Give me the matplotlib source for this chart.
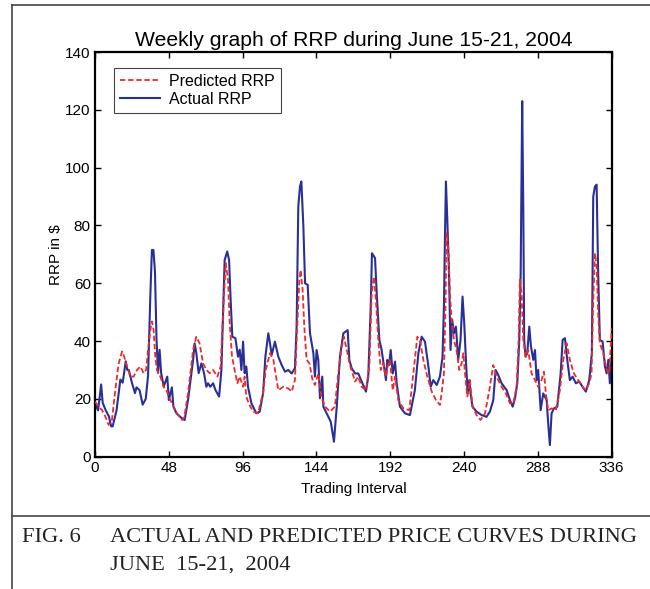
import matplotlib
matplotlib.use('Agg')
import matplotlib.pyplot as plt
from matplotlib.lines import Line2D

# actual RRP (blue)
x_act = [0, 2, 4, 5, 7, 9, 10.5, 11.5, 14, 16.5, 18, 20, 21, 22, 24, 26, 27, 29, 31, 33,
         34.5, 36, 37, 38, 39, 40, 41, 42, 43, 44.7, 47, 48, 50, 51, 53, 56, 58.3, 60.5, 63.8, 64.8,
         65.9, 67.4, 69.2, 70.9, 72.4, 73.5, 75, 76.8, 78.3, 80.7, 82.2, 83.3, 84.3, 86, 87.2, 88.2,
         89.3, 91.3, 93, 94.1, 95.2, 96.3, 97.3, 98.4, 99.5, 101.7, 104.9, 107.1, 109.3, 110.8,
         112.7, 113.8, 114.9, 117, 119.2, 121.4, 123.6, 125.7, 127.9, 130, 131.1, 132.2, 133.3,
         134.2, 135.5, 136.6, 138.3, 139.8, 142, 143, 144.1, 145.2, 146.3, 147.8, 148.5, 150.6,
         153.3, 155.4, 157.2, 159.3, 161.5, 164.3, 165.4, 166.9, 169.1, 171.2, 173.4, 176.2, 177.7,
         179.3, 180.1, 182.1, 183.2, 184.9, 186.4, 187.9, 189.2, 190.1, 191.2, 192.3, 193.6, 195.1,
         196.2, 198.3, 201.6, 204.8, 208, 210.3, 212.4, 214.6, 216.8, 218.3, 220, 222.2, 224.3, 226,
         226.9, 227.6, 228.2, 229.1, 230.2, 231.2, 232.3, 233.4, 234.7, 236.2, 237.7, 239, 240.1,
         241.2, 242.3, 243.4, 244.2, 245.5, 248.1, 251.4, 254.6, 256.8, 259, 260.5, 262.2, 264.4,
         267.7, 269.8, 271.6, 273.1, 274.6, 275.9, 276.8, 277.4, 277.8, 278.5, 279.1, 280, 281.1,
         282.4, 283.5, 285, 286.1, 287.2, 288.2, 289.8, 291.5, 293.7, 294.7, 295.8, 296.9, 298.4,
         300.6, 302.8, 304.1, 305.6, 307.1, 308.8, 310.6, 312.7, 314.9, 317, 319.2, 321.4, 323.1,
         324, 325.1, 326.2, 327.2, 328.3, 330.1, 331.6, 332.7, 333.8, 334.8, 336]
y_act = [18.6, 16, 25, 18.6, 16, 14, 10.5, 10.5, 16, 26.7, 25.6, 33, 30, 30, 25.6, 22, 24, 23, 18, 20,
         28, 56, 71.5, 71.5, 64, 40.7, 29, 37, 29, 24.3, 27.7, 19.6, 24, 17.3, 15, 13.5, 12.7, 19.6, 33.5, 39.2,
         35.8, 28.9, 32.3, 28.9, 24.2, 25.4, 24.2, 25.4, 23.1, 20.8, 30, 49.6, 68, 71, 68, 54.3,
         41.5, 41, 34.6, 37, 30, 39.8, 28.9, 31.2, 24.2, 18.5, 15, 15.6, 21.9, 34.6,
         42.7, 39.2, 35.2, 39.8, 34.6, 31.7, 29.4, 30, 28.8, 30.6, 45, 86.6, 93.5,
         95.2, 79.6, 60, 59.4, 42.7, 35.8, 27.7, 36.9, 33.5, 20.2, 27.7, 17.3, 15,
         12.1, 5.2, 17.3, 34.6, 42.7, 43.8, 33.5, 30.6, 28.8, 28.8, 26, 22.5, 27.7,
         52, 70.4, 68.7, 56.5, 40.4, 36.9, 31.2, 26.5, 33.5, 31.7, 36.9, 28.8, 32.9,
         25.4, 17.3, 15, 14.4, 23, 35.8, 41.5, 39.8, 31.2, 24.2, 26.5, 24.8, 27.7, 34.6,
         52, 77.3, 95.2, 82, 63.5, 36.9, 47.3, 42.7, 45, 33.5, 40.4, 55.4, 46.2,
         33.5, 21.9, 26.5, 21.9, 17.3, 15.6, 14.4, 13.8, 15.6, 19.6, 30, 28.3, 25.4,
         23, 19.6, 17.3, 20.2, 25.4, 40.4, 63.5, 98.1, 123, 86.6, 40.4, 34.6, 35.8,
         45, 38.1, 33.5, 36.9, 26.5, 30, 16.1, 21.9, 19.6, 11.5, 4, 15, 16.7,
         17.3, 28.8, 40.4, 41, 33.5, 26.5, 27.7, 25.4, 26, 24.2, 22.5, 26.5, 35.8,
         90, 93.5, 94.1, 63.5, 40.4, 39.8, 31.2, 28.8, 33.5, 25.4, 34.6]

# predicted RRP (red dashed)
x_pred = [0, 2.4, 4.5, 6.7, 8.9, 11, 13.2, 15.4, 17.6, 19, 20.8, 23, 25.1, 27.3, 29.5, 31.6, 33.2,
          34.5, 36, 37, 38.1, 39.2, 40.3, 42.5, 44.6, 46.8, 49, 51.1, 53.3, 56.6, 58, 60.5, 63.8,
          65.9, 68, 70.3, 72.4, 74.6, 76.8, 79.6, 81.7, 83.3, 85, 86.5, 87.6, 89.1, 90.8, 92.6,
          94.1, 96.3, 97.3, 98.4, 99.9, 102.8, 106, 109.3, 111, 113.8, 116, 119.2, 122.5, 125.7,
          127.9, 130, 131.6, 132.9, 133.7, 135, 136.1, 137.6, 139.4, 141.5, 143, 145.2, 147.4,
          149.6, 152.8, 156, 158.2, 160.4, 161.9, 163.7, 165.8, 169.1, 171.2, 173.4, 176.2, 178.4,
          179.9, 181.4, 182.7, 184.2, 185.8, 187.5, 189.2, 190.3, 191.8, 193.6, 195.1, 197.2,
          200.5, 204.4, 207, 209.6, 211.3, 213.5, 216.1, 219, 221.7, 224.3, 225.4, 226.9, 228,
          228.6, 229.7, 230.8, 231.9, 233.4, 235.1, 236.9, 238.4, 239.5, 240.6, 242.1, 243.8,
          245.5, 248.1, 250.7, 253.6, 256.4, 259, 261.1, 264.4, 267.2, 269.8, 272, 274.2, 275.5,
          276.3, 277.4, 278.5, 280.2, 281.7, 283.9, 286.1, 288.2, 290.4, 291.9, 293.2, 294.7,
          296.9, 299.7, 302.3, 304.5, 306.7, 308.8, 311.4, 314.2, 317, 319.2, 321.4, 322.9, 324,
          325.1, 326.2, 327.2, 328.3, 330.5, 332.7, 334.4, 336]
y_pred = [19, 17.3, 16.2, 13.9, 11, 12.7, 23.1, 32.3, 36.4, 34.6, 31.2, 27.7, 27.7, 30, 31.2, 28.9, 30,
          36.9, 43.9, 46.8, 43.9, 34.6, 30, 27.7, 24.2, 22.5, 19.6, 17.3, 15, 12.7, 13.5, 21.9, 37,
          41.5, 39.2, 32.3, 30, 28.9, 30, 27.7, 31.2, 49.6, 67, 61.2, 46.2, 34.6, 30, 25.4,
          27.7, 24.2, 27.7, 20.8, 18.5, 15.6, 15, 22, 30, 35.8, 33.5, 23, 24.2, 23.6,
          22.5, 26.5, 46.2, 61.2, 64.6, 57.7, 45, 33.5, 32.3, 26.5, 24.8, 28.8, 20.2,
          17.3, 15.6, 17.3, 28.8, 38.1, 41.5, 36.9, 31.7, 26, 27.7, 24.2, 23, 31.2,
          56.5, 62.3, 54.2, 40.4, 30, 32.3, 27.7, 31.2, 33.5, 23, 27.7, 19.6,
          16.7, 16.1, 28.8, 41.5, 40.4, 33.5, 27.7, 22.5, 19.6, 17.9, 21.9, 28.8, 54.2,
          77.3, 72.7, 56.5, 47.3, 40.4, 36.9, 30, 32.3, 35.8, 28.8, 20.8, 26.5,
          17.3, 14.4, 12.7, 15, 23, 31.7, 27.7, 24.2, 21.9, 18.5, 18.5, 24.2, 40.4,
          61.2, 56.5, 40.4, 34.6, 36.9, 28.8, 26.5, 24.2, 26.5, 29.4, 21.9, 16.1,
          16.7, 16.1, 23, 33.5, 39.2, 33.5, 28.8, 26.5, 24.2, 23, 25.4, 28.8, 54.2,
          70.4, 65.8, 49.6, 39.2, 35.8, 30, 28.8, 44.4]

xticks = [0, 48, 96, 144, 192, 240, 288, 336]
yticks = [0, 20, 40, 60, 80, 100, 120, 140]

sans = 'Liberation Sans'
serif = 'Liberation Serif'

fig = plt.figure(figsize=(6.5, 5.89), dpi=100)

# frame of the paper figure
fig.add_artist(Line2D([12/650, 1], [1 - 5/589, 1 - 5/589], color='#444444', lw=1.2))
fig.add_artist(Line2D([12/650, 12/650], [0, 1 - 5/589], color='#444444', lw=1.2))
fig.add_artist(Line2D([12/650, 1], [1 - 516/589, 1 - 516/589], color='#444444', lw=1.2))

ax = fig.add_axes([95/650, 1 - 456.7/589, 516.7/650, 404.7/589])
ax.plot(x_pred, y_pred, color='#ee2a2a', lw=1.3, dashes=(3, 1.5), label='Predicted RRP', zorder=3)
ax.plot(x_act, y_act, color='#2a2f96', lw=1.5, label='Actual RRP', zorder=2)

ax.set_xlim(0, 336)
ax.set_ylim(0, 140)
ax.set_xticks(xticks)
ax.set_yticks(yticks)
ax.tick_params(direction='in', top=True, right=True, length=4.5, width=1, labelsize=11, pad=3)
for lab in ax.get_xticklabels() + ax.get_yticklabels():
    lab.set_fontfamily(sans)
for s in ax.spines.values():
    s.set_linewidth(1.6)

ax.set_title('Weekly graph of RRP during June 15-21, 2004', fontsize=15.2, family=sans, pad=4)
ax.set_xlabel('Trading Interval', fontsize=11, family=sans, labelpad=5)
ax.set_ylabel('RRP in $', fontsize=11, family=sans, labelpad=2)

leg = ax.legend(loc='upper left', bbox_to_anchor=(0.037, 0.96), borderaxespad=0,
                fancybox=False, edgecolor='#444444', framealpha=1, handlelength=2.5,
                prop={'family': sans, 'size': 11.5}, borderpad=0.35, labelspacing=0.2,
                handletextpad=0.6)
leg.get_frame().set_linewidth(0.8)

fig.text(22/650, 1 - 538/589, 'FIG. 6', family=serif, fontsize=16.2, va='center', ha='left',
         color='#222222')
fig.text(110/650, 1 - 538/589, 'ACTUAL AND PREDICTED PRICE CURVES DURING',
         family=serif, fontsize=16.2, va='center', ha='left', color='#222222')
fig.text(110/650, 1 - 565/589, 'JUNE  15-21,  2004',
         family=serif, fontsize=16.2, va='center', ha='left', color='#222222')

fig.savefig('out.png', dpi=100)
